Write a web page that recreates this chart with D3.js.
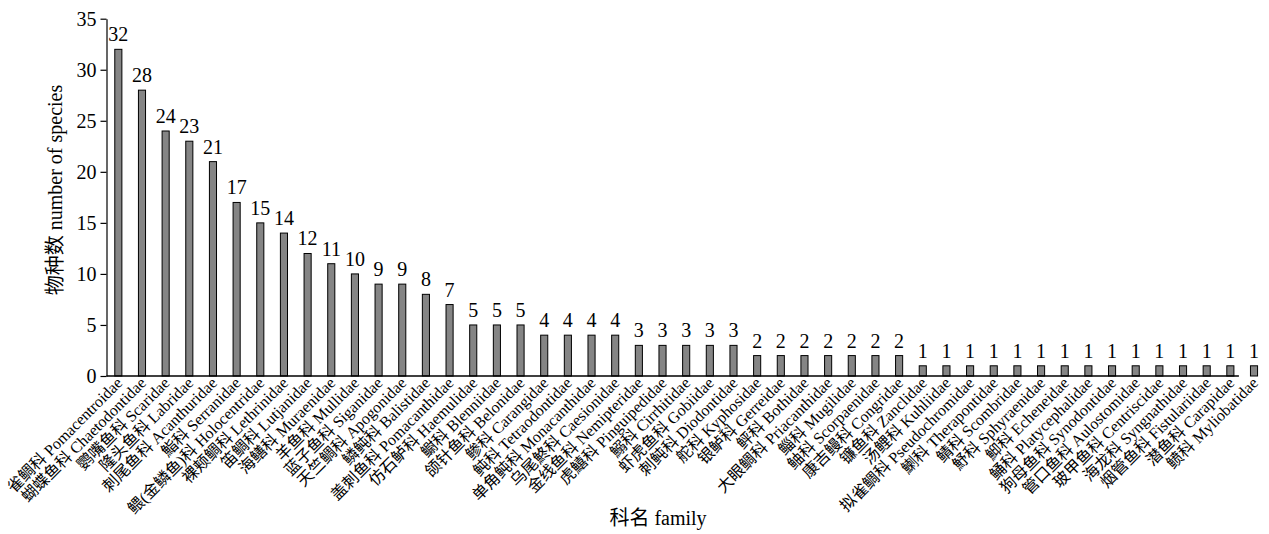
<!DOCTYPE html>
<html><head><meta charset="utf-8">
<script src="https://cdn.jsdelivr.net/npm/d3@7"></script>
<style>body{margin:0;background:#fff}svg{display:block}text{font-family:"Liberation Serif","Noto Sans CJK SC",serif;fill:#000}</style>
</head><body><svg id="c" width="1269" height="534"></svg>
<script>
const families = ["雀鲷科 Pomacentroidae","蝴蝶鱼科 Chaetodontidae","鹦嘴鱼科 Scaridae","隆头鱼科 Labridae","刺尾鱼科 Acanthuridae","鮨科 Serranidae","鳂(金鳞鱼)科 Holocentridae","裸颊鲷科 Lethrinidae","笛鲷科 Lutjanidae","海鳝科 Muraenidae","羊鱼科 Mullidae","蓝子鱼科 Siganidae","天竺鲷科 Apogonidae","鳞鲀科 Balistidae","盖刺鱼科 Pomacanthidae","仿石鲈科 Haemulidae","鳚科 Blenniidae","颌针鱼科 Belonidae","鲹科 Carangidae","鲀科 Tetraodontidae","单角鲀科 Monacanthidae","乌尾鮗科 Caesionidae","金线鱼科 Nemipteridae","虎鱚科 Pinguipedidae","鰯科 Cirrhitidae","虾虎鱼科 Gobiidae","刺鲀科 Diodontidae","舵科 Kyphosidae","银鲈科 Gerreidae","鲆科 Bothidae","大眼鲷科 Priacanthidae","鲻科 Mugilidae","鲉科 Scorpaenidae","康吉鳗科 Congridae","镰鱼科 Zanclidae","汤鲤科 Kuhliidae","拟雀鲷科 Pseudochromidae","鯻科 Therapontidae","鲭科 Scombridae","魣科 Sphyraenidae","鮣科 Echeneidae","鲬科 Platycephalidae","狗母鱼科 Synodontidae","管口鱼科 Aulostomidae","玻甲鱼科 Centriscidae","海龙科 Syngnathidae","烟管鱼科 Fistulariidae","潜鱼科 Carapidae","鲼科 Myliobatidae"];
const speciesCounts = [32,28,24,23,21,17,15,14,12,11,10,9,9,8,7,5,5,5,4,4,4,4,3,3,3,3,3,2,2,2,2,2,2,2,1,1,1,1,1,1,1,1,1,1,1,1,1,1,1];
const yTicks = [0,5,10,15,20,25,30,35];
const yTitle = "物种数 number of species";
const xTitle = "科名 family";

const svg = d3.select("#c");
const x0 = 106.5, step = 23.66;
const x = d3.scaleBand().domain(families).range([x0, x0 + step*families.length]).paddingInner(0.70).paddingOuter(0.35);
const y = d3.scaleLinear().domain([0,35]).range([376, 18.7]);

// bars
svg.append("g").selectAll("rect").data(families).join("rect")
  .attr("x", d => x(d)).attr("width", x.bandwidth())
  .attr("y", (d,i) => y(speciesCounts[i])).attr("height", (d,i) => y(0) - y(speciesCounts[i]))
  .attr("fill", "#858585").attr("stroke", "#000").attr("stroke-width", 1);

// value labels
svg.append("g").selectAll("text").data(families).join("text")
  .attr("x", d => x(d) + x.bandwidth()/2).attr("y", (d,i) => y(speciesCounts[i]) - 8)
  .attr("text-anchor","middle").attr("font-size", 20).text((d,i) => speciesCounts[i]);

// y axis
const ya = svg.append("g").attr("transform", `translate(${x0},0)`)
  .call(d3.axisLeft(y).tickValues(yTicks).tickSize(6).tickPadding(4).tickSizeOuter(0));
ya.selectAll("text").attr("font-size", 20).style("font-family",'"Liberation Serif",serif');
ya.selectAll("line,path").attr("stroke","#000").attr("stroke-width",1.2);

// x axis line (ends before last bar as in original)
const xEnd = x(families[families.length-2]) + x.bandwidth() + 5;
svg.append("line").attr("x1", x0).attr("x2", xEnd).attr("y1", y(0)).attr("y2", y(0)).attr("stroke","#000").attr("stroke-width",1.5);

// x tick labels
svg.append("g").selectAll("text").data(families).join("text")
  .attr("transform", d => `translate(${x(d) + x.bandwidth()/2 + 5},${y(0) + 8}) rotate(-45)`)
  .attr("text-anchor","end").attr("font-size", 16).text(d => d);

// titles
svg.append("text").attr("transform", `translate(62,190) rotate(-90)`).attr("text-anchor","middle").attr("font-size",20).text(yTitle);
svg.append("text").attr("x", 658).attr("y", 525).attr("text-anchor","middle").attr("font-size",20).text(xTitle);
</script></body></html>
